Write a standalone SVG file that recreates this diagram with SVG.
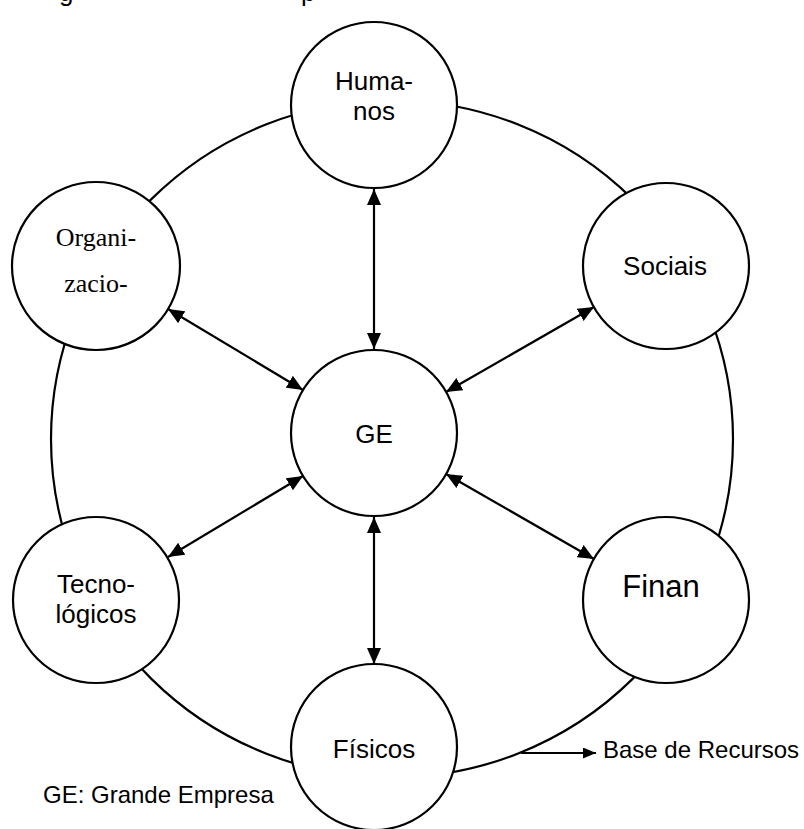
<svg xmlns="http://www.w3.org/2000/svg" width="804" height="829" viewBox="0 0 804 829">
  <style>
    .node { fill: #ffffff; stroke: #000000; stroke-width: 2.2; }
    .ring { fill: none; stroke: #000000; stroke-width: 2.2; }
    .link { stroke: #000000; stroke-width: 2.2; fill: none; }
    .lbl { font-family: "Liberation Sans", Arial, sans-serif; font-size: 26px; fill: #000000; text-anchor: middle; }
    .big { font-size: 31px; }
    .serif { font-family: "Liberation Serif", "Times New Roman", serif; }
    .note { font-family: "Liberation Sans", Arial, sans-serif; font-size: 24px; fill: #000000; }
    .title { font-size: 26px; }
  </style>
  <defs>
    <marker id="head" markerUnits="userSpaceOnUse" markerWidth="16" markerHeight="14" refX="16" refY="7" orient="auto-start-reverse">
      <path d="M0,0 L16,7 L0,14 Z" fill="#000000"/>
    </marker>
    <marker id="headSmall" markerUnits="userSpaceOnUse" markerWidth="13" markerHeight="11" refX="13" refY="5.5" orient="auto">
      <path d="M0,0 L13,5.5 L0,11 Z" fill="#000000"/>
    </marker>
  </defs>

  <rect width="804" height="829" fill="#ffffff"/>

  <!-- title line, cut at the top edge -->
  <text class="note title" x="59" y="1">g</text>
  <text class="note title" x="301" y="1">p</text>

  <!-- resource base ring -->
  <g id="base-recursos">
    <ellipse class="ring" cx="392" cy="439" rx="341" ry="338.5"/>
  </g>

  <!-- resource nodes -->
  <g id="humanos">
    <circle class="node" cx="374" cy="105" r="83"/>
    <text class="lbl" x="374" y="90">Huma-</text>
    <text class="lbl" x="374" y="120">nos</text>
  </g>
  <g id="sociais">
    <circle class="node" cx="666" cy="266" r="83"/>
    <text class="lbl" x="665" y="275">Sociais</text>
  </g>
  <g id="financeiros">
    <circle class="node" cx="666" cy="600" r="83"/>
    <text class="lbl big" x="661" y="597">Finan</text>
  </g>
  <g id="fisicos">
    <circle class="node" cx="374" cy="747" r="83"/>
    <text class="lbl" x="374" y="758">Físicos</text>
  </g>
  <g id="tecnologicos">
    <circle class="node" cx="96" cy="600" r="83"/>
    <text class="lbl" x="96" y="593">Tecno-</text>
    <text class="lbl" x="96" y="623">lógicos</text>
  </g>
  <g id="organizacionais">
    <circle class="node" cx="96" cy="266" r="84"/>
    <text class="lbl serif" x="96" y="246">Organi-</text>
    <text class="lbl serif" x="96" y="292">zacio-</text>
  </g>
  <g id="ge">
    <circle class="node" cx="374" cy="433" r="83"/>
    <text class="lbl" x="374" y="443">GE</text>
  </g>

  <!-- two-way links between GE and each resource -->
  <g id="connectors">
    <line class="link" x1="374" y1="189" x2="374" y2="349" marker-start="url(#head)" marker-end="url(#head)"/>
    <line class="link" x1="374" y1="517" x2="374" y2="664" marker-start="url(#head)" marker-end="url(#head)"/>
    <line class="link" x1="168" y1="309" x2="303" y2="390" marker-start="url(#head)" marker-end="url(#head)"/>
    <line class="link" x1="594" y1="307" x2="446" y2="392" marker-start="url(#head)" marker-end="url(#head)"/>
    <line class="link" x1="168" y1="557" x2="303" y2="476" marker-start="url(#head)" marker-end="url(#head)"/>
    <line class="link" x1="594" y1="559" x2="446" y2="474" marker-start="url(#head)" marker-end="url(#head)"/>
    <line class="link" x1="521" y1="753" x2="596" y2="753" marker-end="url(#headSmall)"/>
  </g>

  <!-- captions -->
  <text class="note" x="603" y="758">Base de Recursos</text>
  <text class="note" x="43" y="803">GE: Grande Empresa</text>
</svg>
